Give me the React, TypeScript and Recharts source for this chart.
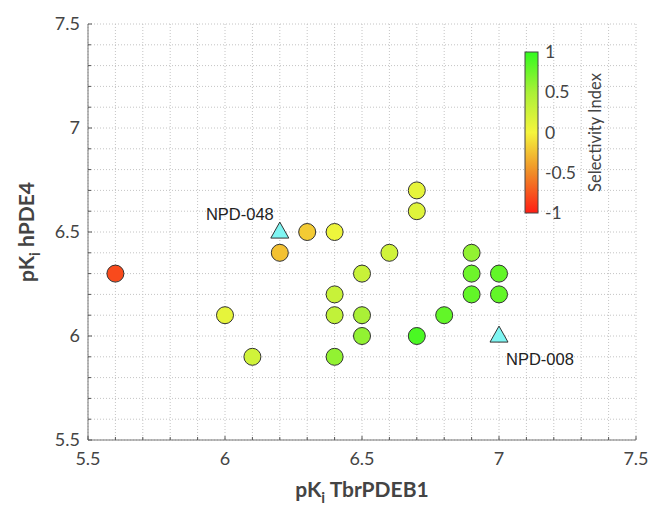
import React from 'react';
import { ScatterChart, Scatter, XAxis, YAxis, CartesianGrid, Customized } from 'recharts';

// Compounds: x = pKi TbrPDEB1, y = pKi hPDE4, si = Selectivity Index
const compoundX = [5.6, 6.0, 6.1, 6.2, 6.3, 6.4, 6.4, 6.4, 6.4, 6.5, 6.5, 6.5, 6.6, 6.7, 6.7, 6.7, 6.8, 6.9, 6.9, 6.9, 7.0, 7.0];
const compoundY = [6.3, 6.1, 5.9, 6.4, 6.5, 6.5, 6.2, 6.1, 5.9, 6.3, 6.1, 6.0, 6.4, 6.7, 6.6, 6.0, 6.1, 6.4, 6.3, 6.2, 6.3, 6.2];
const compoundSI = [-0.8, 0.1, 0.25, -0.25, -0.2, 0.05, 0.3, 0.35, 0.6, 0.3, 0.5, 0.6, 0.25, 0.1, 0.15, 0.9, 0.8, 0.6, 0.75, 0.8, 0.8, 0.8];

// Reference compounds (triangles)
const refNames = ['NPD-048', 'NPD-008'];
const refX = [6.2, 7.0];
const refY = [6.5, 6.0];

const xTicks = [5.5, 6, 6.5, 7, 7.5];
const yTicks = [5.5, 6, 6.5, 7, 7.5];
const colorbarTicks = [1, 0.5, 0, -0.5, -1];
const colorbarLabel = 'Selectivity Index';

const minorX: number[] = [];
for (let i = 0; i <= 20; i++) minorX.push(Math.round((5.5 + i * 0.1) * 10) / 10);
const minorY: number[] = [];
for (let i = 0; i <= 20; i++) minorY.push(Math.round((5.5 + i * 0.1) * 10) / 10);

const compounds = compoundX.map((x, i) => ({ x, y: compoundY[i], si: compoundSI[i] }));
const refs = refNames.map((name, i) => ({ x: refX[i], y: refY[i], name }));

const stops: [number, number[]][] = [
  [-1, [255, 30, 20]],
  [-0.5, [240, 140, 40]],
  [0, [245, 245, 60]],
  [0.5, [170, 240, 55]],
  [1, [50, 250, 30]],
];
function siColor(v: number) {
  for (let i = 0; i < stops.length - 1; i++) {
    const [a, ca] = stops[i];
    const [b, cb] = stops[i + 1];
    if (v <= b) {
      const t = Math.max(0, (v - a) / (b - a));
      const c = ca.map((k, j) => Math.round(k + (cb[j] - k) * t));
      return `rgb(${c[0]},${c[1]},${c[2]})`;
    }
  }
  const c = stops[stops.length - 1][1];
  return `rgb(${c[0]},${c[1]},${c[2]})`;
}

const TICK_FONT = 'Lato, "Open Sans", sans-serif';

const XTick = (props: any) => {
  const { x, y, payload } = props;
  const v = payload.value;
  const major = xTicks.some((t) => Math.abs(t - v) < 1e-6);
  return (
    <g>
      <line x1={x} x2={x} y1={y} y2={y - (major ? 4 : 3)} stroke="#555" strokeWidth={1} />
      {major && (
        <text x={x} y={y + 25} textAnchor="middle" fontSize={18} fill="#444" fontFamily={TICK_FONT}>
          {String(v)}
        </text>
      )}
    </g>
  );
};

const YTick = (props: any) => {
  const { x, y, payload } = props;
  const v = payload.value;
  const major = yTicks.some((t) => Math.abs(t - v) < 1e-6);
  return (
    <g>
      <line x1={x} x2={x + (major ? 4 : 3)} y1={y} y2={y} stroke="#555" strokeWidth={1} />
      {major && (
        <text x={x - 8} y={y + 6} textAnchor="end" fontSize={18} fill="#444" fontFamily={TICK_FONT}>
          {String(v)}
        </text>
      )}
    </g>
  );
};

const CircleShape = (props: any) => {
  const { cx, cy, payload } = props;
  return <circle cx={cx} cy={cy} r={8.5} fill={siColor(payload.si)} stroke="#333" strokeWidth={1} />;
};

const TriangleShape = (props: any) => {
  const { cx, cy, payload } = props;
  const h = 16;
  const w = 18;
  const pts = `${cx},${cy - h * 0.62} ${cx - w / 2},${cy + h * 0.38} ${cx + w / 2},${cy + h * 0.38}`;
  const left = payload.name === 'NPD-048';
  return (
    <g>
      <polygon points={pts} fill="#7ff5f2" stroke="#333" strokeWidth={1} />
      <text
        x={left ? cx - 6 : cx + 7}
        y={left ? cy - 12 : cy + 29}
        textAnchor={left ? 'end' : 'start'}
        fontSize={16.5}
        fill="#222"
        fontFamily='"Liberation Sans", Arial, sans-serif'
      >
        {payload.name}
      </text>
    </g>
  );
};

const Colorbar = () => {
  const x = 525;
  const top = 52;
  const bottom = 213;
  const w = 13;
  const scale = (v: number) => top + ((1 - v) / 2) * (bottom - top);
  return (
    <g>
      <defs>
        <linearGradient id="siGrad" x1="0" y1="1" x2="0" y2="0">
          {stops.map(([v]) => (
            <stop key={v} offset={`${((v + 1) / 2) * 100}%`} stopColor={siColor(v)} />
          ))}
        </linearGradient>
      </defs>
      <rect x={x} y={top} width={w} height={bottom - top} fill="url(#siGrad)" stroke="#444" strokeWidth={1} />
      {colorbarTicks.map((t) => (
        <text key={t} x={x + 20} y={scale(t) + 6} fontSize={17.5} fill="#444" fontFamily={TICK_FONT}>
          {String(t)}
        </text>
      ))}
      <text
        x={601}
        y={(top + bottom) / 2}
        transform={`rotate(-90 601 ${(top + bottom) / 2})`}
        textAnchor="middle"
        fontSize={16.5}
        fill="#444"
        fontFamily={TICK_FONT}
      >
        {colorbarLabel}
      </text>
    </g>
  );
};

const XLabel = (props: any) => {
  const { viewBox } = props;
  const cx = viewBox.x + viewBox.width / 2;
  return (
    <text x={cx} y={497} textAnchor="middle" fontSize={21} fontWeight="bold" fill="#444" fontFamily={TICK_FONT}>
      pK
      <tspan fontSize={15} dy={6}>i</tspan>
      <tspan dy={-6}> TbrPDEB1</tspan>
    </text>
  );
};

const YLabel = (props: any) => {
  const { viewBox } = props;
  const cy = viewBox.y + viewBox.height / 2;
  const x = 34;
  return (
    <text
      x={x}
      y={cy}
      transform={`rotate(-90 ${x} ${cy})`}
      textAnchor="middle"
      fontSize={21}
      fontWeight="bold"
      fill="#444"
      fontFamily={TICK_FONT}
    >
      pK
      <tspan fontSize={15} dy={6}>i</tspan>
      <tspan dy={-6}> hPDE4</tspan>
    </text>
  );
};

export default function App() {
  return (
    <div style={{ position: 'absolute', left: 0, top: 0, width: 652, height: 508, background: '#fff' }}>
      <ScatterChart width={652} height={508} margin={{ top: 24, right: 16, bottom: 0, left: 0 }}>
        <CartesianGrid stroke="#c4c4c4" strokeDasharray="1 2" />
        <XAxis
          type="number"
          dataKey="x"
          domain={[5.5, 7.5]}
          ticks={minorX}
          interval={0}
          height={68}
          tickSize={0}
          tickMargin={0}
          tickLine={false}
          tick={<XTick />}
          axisLine={{ stroke: '#777' }}
          label={<XLabel />}
        />
        <YAxis
          type="number"
          dataKey="y"
          domain={[5.5, 7.5]}
          ticks={minorY}
          interval={0}
          width={88}
          tickSize={0}
          tickMargin={0}
          tickLine={false}
          tick={<YTick />}
          axisLine={{ stroke: '#777' }}
          label={<YLabel />}
        />
        <Scatter data={compounds} shape={<CircleShape />} isAnimationActive={false} />
        <Scatter data={refs} shape={<TriangleShape />} isAnimationActive={false} />
        <Customized component={<Colorbar />} />
      </ScatterChart>
    </div>
  );
}
